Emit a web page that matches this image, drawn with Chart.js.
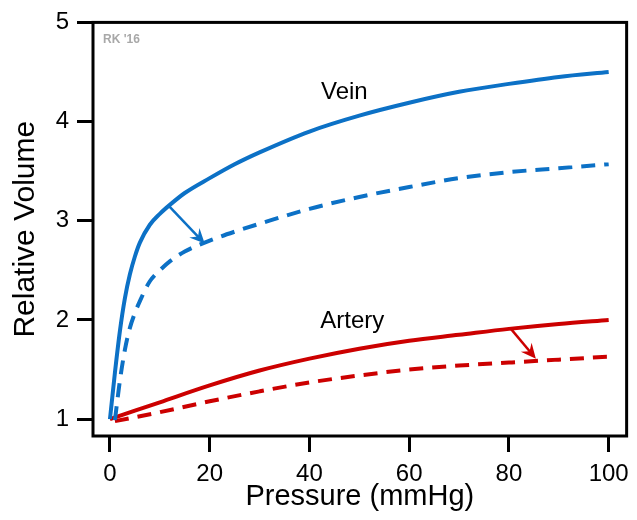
<!DOCTYPE html>
<html>
<head>
<meta charset="utf-8">
<script src="https://cdn.jsdelivr.net/npm/chart.js@4.4.0/dist/chart.umd.min.js"></script>
<style>body{margin:0;background:#fff}</style>
</head>
<body>
<canvas id="pvChart" width="637" height="520"></canvas>
<script>
// Vein, before (solid) and after (dashed)
const veinPressure = [0, 1, 2, 3, 4, 5, 6, 8, 10, 12, 15, 20, 25, 30, 40, 50, 60, 70, 80, 90, 100];
const veinVolume = [1, 1.47, 1.89, 2.22, 2.46, 2.64, 2.78, 2.96, 3.07, 3.16, 3.28, 3.43, 3.57, 3.69, 3.9, 4.06, 4.19, 4.3, 4.38, 4.45, 4.5];
const veinPressure2 = [1, 2, 3, 4, 5, 6, 8, 10, 12, 15, 20, 25, 30, 40, 50, 60, 70, 80, 90, 100];
const veinVolume2 = [0.99, 1.39, 1.7, 1.92, 2.07, 2.19, 2.39, 2.5, 2.59, 2.69, 2.8, 2.89, 2.97, 3.12, 3.24, 3.34, 3.43, 3.49, 3.53, 3.57];
// Artery, before (solid) and after (dashed)
const arteryPressure = [0, 10, 20, 30, 40, 50, 60, 70, 80, 90, 100];
const arteryVolume = [1, 1.17, 1.34, 1.49, 1.61, 1.71, 1.79, 1.85, 1.91, 1.96, 2.0];
const arteryPressure2 = [1, 10, 20, 30, 40, 50, 60, 70, 80, 90, 100];
const arteryVolume2 = [0.98, 1.07, 1.18, 1.28, 1.37, 1.44, 1.5, 1.54, 1.57, 1.6, 1.63];

const xTicks = [0, 20, 40, 60, 80, 100];
const yTicks = [1, 2, 3, 4, 5];

const BLUE = '#0c71c6';
const RED = '#cc0000';
const FONT = '"Liberation Sans", Arial, sans-serif';

const toPoints = (xs, ys) => xs.map((v, i) => ({x: v, y: ys[i]}));

// annotation arrows and labels, in data units
const arrows = [
    {from: [11.8, 3.15], to: [19, 2.77], color: BLUE},
    {from: [80.4, 1.91], to: [85.4, 1.61], color: RED}
];
const labels = [
    {text: 'Vein', at: [47, 4.29]},
    {text: 'Artery', at: [48.6, 1.99]}
];

const overlay = {
    id: 'overlay',
    afterDatasetsDraw(chart) {
        const {ctx, chartArea: a, scales: {x, y}} = chart;
        ctx.save();
        ctx.strokeStyle = '#000';
        ctx.lineWidth = 3;
        ctx.strokeRect(a.left, a.top, a.right - a.left, a.bottom - a.top);

        arrows.forEach(ar => {
            const x0 = x.getPixelForValue(ar.from[0]), y0 = y.getPixelForValue(ar.from[1]);
            const x1 = x.getPixelForValue(ar.to[0]), y1 = y.getPixelForValue(ar.to[1]);
            const ang = Math.atan2(y1 - y0, x1 - x0);
            const c = Math.cos(ang), s = Math.sin(ang);
            const len = 15, half = 7;
            ctx.strokeStyle = ar.color;
            ctx.fillStyle = ar.color;
            ctx.lineWidth = 2.5;
            ctx.beginPath();
            ctx.moveTo(x0, y0);
            ctx.lineTo(x1 - c * len * 0.6, y1 - s * len * 0.6);
            ctx.stroke();
            ctx.beginPath();
            ctx.moveTo(x1, y1);
            ctx.lineTo(x1 - c * len - s * half, y1 - s * len + c * half);
            ctx.lineTo(x1 - c * len * 0.65, y1 - s * len * 0.65);
            ctx.lineTo(x1 - c * len + s * half, y1 - s * len - c * half);
            ctx.closePath();
            ctx.fill();
        });

        ctx.fillStyle = '#000';
        ctx.font = '24px ' + FONT;
        ctx.textAlign = 'center';
        ctx.textBaseline = 'middle';
        labels.forEach(l => {
            ctx.fillText(l.text, x.getPixelForValue(l.at[0]), y.getPixelForValue(l.at[1]));
        });

        ctx.fillStyle = '#a8a8a8';
        ctx.font = 'bold 12px ' + FONT;
        ctx.textAlign = 'left';
        ctx.fillText("RK '16", a.left + 10, a.top + 17);
        ctx.restore();
    }
};

new Chart(document.getElementById('pvChart').getContext('2d'), {
    type: 'line',
    data: {
        datasets: [
            {data: toPoints(veinPressure, veinVolume), borderColor: BLUE, borderWidth: 4},
            {data: toPoints(veinPressure2, veinVolume2), borderColor: BLUE, borderWidth: 4, borderDash: [14, 9]},
            {data: toPoints(arteryPressure, arteryVolume), borderColor: RED, borderWidth: 4},
            {data: toPoints(arteryPressure2, arteryVolume2), borderColor: RED, borderWidth: 4, borderDash: [14, 9]}
        ]
    },
    options: {
        responsive: false,
        animation: false,
        cubicInterpolationMode: 'monotone',
        pointRadius: 0,
        layout: {padding: {top: 19, right: 9, left: 0, bottom: 0}},
        plugins: {legend: {display: false}, tooltip: {enabled: false}},
        scales: {
            x: {
                type: 'linear',
                min: -3.4,
                max: 103.6,
                afterBuildTicks: s => { s.ticks = xTicks.map(v => ({value: v})); },
                afterFit: s => { s.height = 84; },
                border: {display: false},
                grid: {drawOnChartArea: false, drawTicks: true, tickLength: 16, tickWidth: 3, tickColor: '#000'},
                ticks: {color: '#000', padding: 8, maxRotation: 0, font: {size: 24, family: FONT}},
                title: {display: true, text: 'Pressure (mmHg)', color: '#000', padding: {top: 0, bottom: 6}, font: {size: 29, family: FONT}}
            },
            y: {
                min: 0.83,
                max: 5,
                afterBuildTicks: s => { s.ticks = yTicks.map(v => ({value: v})); },
                afterFit: s => { s.width = 93; },
                border: {display: false},
                grid: {drawOnChartArea: false, drawTicks: true, tickLength: 16, tickWidth: 3, tickColor: '#000'},
                ticks: {color: '#000', padding: 8, font: {size: 24, family: FONT}},
                title: {display: true, text: 'Relative Volume', color: '#000', padding: {top: 8, bottom: 0}, font: {size: 30, family: FONT}}
            }
        }
    },
    plugins: [overlay]
});
</script>
</body>
</html>
